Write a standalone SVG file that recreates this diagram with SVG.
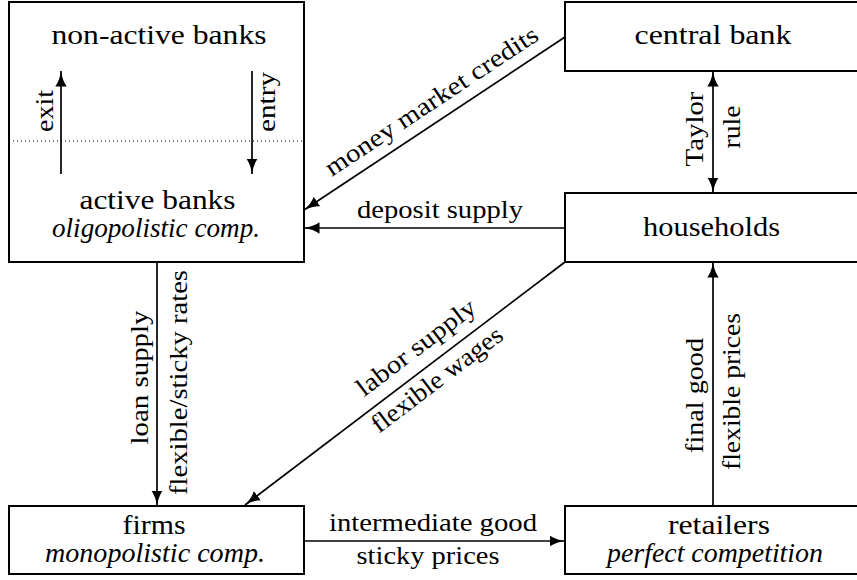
<svg xmlns="http://www.w3.org/2000/svg" width="857" height="580" viewBox="0 0 857 580">
<style>
  .box { fill: #fff; stroke: #000; stroke-width: 2; }
  text { fill: #000; text-anchor: middle; }
  .nt { font-size: 28px; }
  .it { font-style: italic; }
  .et { font-size: 25.5px; }
  .edge { stroke: #000; stroke-width: 1.7; fill: none; }
  .arr { marker-end: url(#ah); }
  .dot { stroke: #000; stroke-width: 1; stroke-dasharray: 1 3; }
</style>
<defs>
  <marker id="ah" markerUnits="userSpaceOnUse" viewBox="0 0 16 12" markerWidth="16" markerHeight="12" refX="15.5" refY="6" orient="auto">
    <path d="M0,0.3 Q6,4.6 15.5,6 Q6,7.4 0,11.7 Z" fill="#000"/>
  </marker>
  <marker id="ahs" markerUnits="userSpaceOnUse" viewBox="0 0 16 12" markerWidth="16" markerHeight="12" refX="15.5" refY="6" orient="auto-start-reverse">
    <path d="M0,0.3 Q6,4.6 15.5,6 Q6,7.4 0,11.7 Z" fill="#000"/>
  </marker>
</defs>
<rect width="857" height="580" fill="#fff"/>
<g font-family="Liberation Serif, DejaVu Serif, Times New Roman, serif">
<g id="banks">
  <rect class="box" x="9" y="2" width="295" height="260"/>
  <line class="dot" x1="9" y1="141" x2="304" y2="141"/>
  <text class="nt" x="159" y="44" textLength="215" lengthAdjust="spacingAndGlyphs">non-active banks</text>
  <text class="nt" x="157.5" y="209" textLength="156" lengthAdjust="spacingAndGlyphs">active banks</text>
  <text class="nt it" x="156" y="237" textLength="208" lengthAdjust="spacingAndGlyphs">oligopolistic comp.</text>
  <g id="exit-entry">
    <line class="edge arr" x1="61" y1="174" x2="61" y2="71"/>
    <line class="edge arr" x1="252" y1="71" x2="252" y2="174"/>
    <text class="et" transform="translate(53,111) rotate(-90)" textLength="42" lengthAdjust="spacingAndGlyphs">exit</text>
    <text class="et" transform="translate(275,102) rotate(-90)" textLength="60" lengthAdjust="spacingAndGlyphs">entry</text>
  </g>
</g>

<g id="central-bank">
  <rect class="box" x="565" y="2" width="300" height="69"/>
  <text class="nt" x="713" y="44" textLength="157" lengthAdjust="spacingAndGlyphs">central bank</text>
</g>

<g id="households">
  <rect class="box" x="565" y="193" width="300" height="69"/>
  <text class="nt" x="711.5" y="236" textLength="137" lengthAdjust="spacingAndGlyphs">households</text>
</g>

<g id="firms">
  <rect class="box" x="9" y="506" width="295" height="68"/>
  <text class="nt" x="154" y="534" textLength="63" lengthAdjust="spacingAndGlyphs">firms</text>
  <text class="nt it" x="155" y="562" textLength="220" lengthAdjust="spacingAndGlyphs">monopolistic comp.</text>
</g>

<g id="retailers">
  <rect class="box" x="565" y="506" width="300" height="68"/>
  <text class="nt" x="719" y="534" textLength="102" lengthAdjust="spacingAndGlyphs">retailers</text>
  <text class="nt it" x="715" y="562" textLength="216" lengthAdjust="spacingAndGlyphs">perfect competition</text>
</g>

<g id="connectors">
  <g id="taylor-rule">
    <line class="edge" x1="713" y1="71" x2="713" y2="193" marker-start="url(#ahs)" marker-end="url(#ah)"/>
    <text class="et" transform="translate(703,129) rotate(-90)" textLength="75" lengthAdjust="spacingAndGlyphs">Taylor</text>
    <text class="et" transform="translate(740,127) rotate(-90)" textLength="43" lengthAdjust="spacingAndGlyphs">rule</text>
  </g>
  <g id="money-market">
    <line class="edge arr" x1="565" y1="37" x2="304" y2="210"/>
    <text class="et" transform="translate(436,108) rotate(-33.5)" textLength="250" lengthAdjust="spacingAndGlyphs">money market credits</text>
  </g>
  <g id="deposit-supply">
    <line class="edge arr" x1="565" y1="228" x2="304" y2="228"/>
    <text class="et" x="440" y="218" textLength="166" lengthAdjust="spacingAndGlyphs">deposit supply</text>
  </g>
  <g id="loan-supply">
    <line class="edge arr" x1="157" y1="262" x2="157" y2="506"/>
    <text class="et" transform="translate(148,377.5) rotate(-90)" textLength="134" lengthAdjust="spacingAndGlyphs">loan supply</text>
    <text class="et" transform="translate(187,382.5) rotate(-90)" textLength="225" lengthAdjust="spacingAndGlyphs">flexible/sticky rates</text>
  </g>
  <g id="labor-supply">
    <line class="edge arr" x1="565" y1="262" x2="245" y2="505"/>
    <text class="et" transform="translate(421,354) rotate(-37.2)" textLength="143" lengthAdjust="spacingAndGlyphs">labor supply</text>
    <text class="et" transform="translate(442,386) rotate(-37.2)" textLength="158" lengthAdjust="spacingAndGlyphs">flexible wages</text>
  </g>
  <g id="intermediate-good">
    <line class="edge arr" x1="304" y1="541" x2="565" y2="541"/>
    <text class="et" x="433" y="531" textLength="208" lengthAdjust="spacingAndGlyphs">intermediate good</text>
    <text class="et" x="428" y="564" textLength="143" lengthAdjust="spacingAndGlyphs">sticky prices</text>
  </g>
  <g id="final-good">
    <line class="edge arr" x1="713" y1="506" x2="713" y2="262"/>
    <text class="et" transform="translate(703,395.5) rotate(-90)" textLength="115" lengthAdjust="spacingAndGlyphs">final good</text>
    <text class="et" transform="translate(740,391.5) rotate(-90)" textLength="157" lengthAdjust="spacingAndGlyphs">flexible prices</text>
  </g>
</g>
</g>
</svg>
